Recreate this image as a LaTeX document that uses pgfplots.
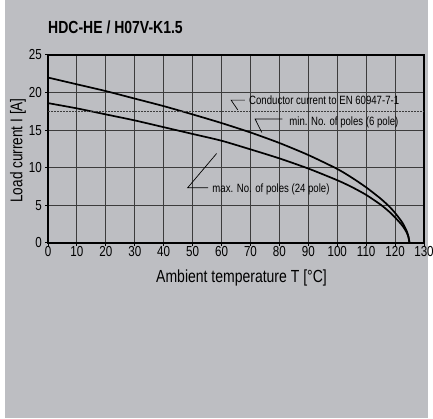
\documentclass[border=0pt]{standalone}
\usepackage{fontspec}
\setmainfont[FakeStretch=0.8]{Liberation Sans}
\usepackage{pgfplots}
\pgfplotsset{compat=1.18}
\definecolor{bg}{RGB}{189,190,194}
\definecolor{gridc}{RGB}{60,60,60}
\begin{document}
\begin{tikzpicture}[x=1pt,y=1pt]
\useasboundingbox (0,0) rectangle (433,419);
\fill[bg] (5,0.5) rectangle (428,418.5);
\node[anchor=base west, inner sep=0pt, font=\fontsize{17.5}{17.5}\selectfont\bfseries] at (48,385.7) {HDC-HE / H07V-K1.5};
\begin{axis}[
    at={(48pt,176pt)}, anchor=south west,
    scale only axis, width=376pt, height=188pt,
    xmin=0, xmax=130, ymin=0, ymax=25,
    xtick={0,10,...,130}, ytick={0,5,...,25},
    grid=major, major grid style={gridc, line width=1.1pt},
    axis line style={black, line width=1.5pt},
    tick align=outside, xtick pos=left, ytick pos=left,
    major tick length=3pt, tick style={black, line width=1pt},
    /pgf/number format/assume math mode=true,
    ticklabel style={font=\fontsize{14.5}{14.5}\selectfont, inner sep=0pt},
    xticklabel style={anchor=base, yshift=-10.5pt},
    yticklabel style={anchor=east, xshift=-3pt},
    clip=false,
]
% min. No. of poles (6 pole)
\addplot[black, line width=1.7pt, smooth, tension=0.4] coordinates {
  (0,22.0) (10,21.1) (20,20.2) (30,19.2) (40,18.2) (50,17.1) (60,15.95)
  (70,14.7) (80,13.3) (90,11.7) (100,9.85) (105,8.7) (110,7.4) (115,5.9)
  (118,4.85) (120,4.0) (122,3.0) (123,2.4) (124,1.6) (124.6,0.9) (125,0)};
% max. No. of poles (24 pole)
\addplot[black, line width=1.7pt, smooth, tension=0.4] coordinates {
  (0,18.6) (10,17.9) (20,17.1) (30,16.3) (40,15.4) (50,14.5) (60,13.6)
  (70,12.45) (80,11.25) (90,9.9) (100,8.35) (105,7.45) (110,6.4) (115,5.1)
  (118,4.15) (120,3.4) (122,2.55) (123,2.05) (124,1.4) (124.6,0.8) (125,0)};
% conductor current
\addplot[gridc, line width=0.6pt, dash pattern=on 1.5pt off 1.5pt] coordinates {(0,17.5) (130,17.5)};
% leaders
\addplot[black, line width=0.7pt] coordinates {(68.1,19.0) (63.3,19.0) (65.6,17.7)};
\addplot[black, line width=0.7pt] coordinates {(81.0,16.5) (71.6,16.5) (73.9,14.7)};
\addplot[black, line width=0.7pt] coordinates {(55.4,7.35) (48.3,7.35) (58.3,11.9)};
\node[anchor=base west, inner sep=0pt, font=\fontsize{12}{12}\selectfont] at (axis cs:69.5,18.35) {Conductor current to EN 60947-7-1};
\node[anchor=base west, inner sep=0pt, font=\fontsize{12}{12}\selectfont] at (axis cs:83.4,15.6) {min. No. of poles (6 pole)};
\node[anchor=base west, inner sep=0pt, font=\fontsize{12}{12}\selectfont] at (axis cs:56.8,6.74) {max. No. of poles (24 pole)};
\end{axis}
\node[anchor=base, inner sep=0pt, font=\fontsize{17.5}{17.5}\selectfont] at (241.5,136.7) {Ambient temperature T [°C]};
\node[rotate=90, anchor=base, inner sep=0pt, font=\fontsize{17}{17}\selectfont] at (22.3,268.5) {Load current I [A]};
\end{tikzpicture}
\end{document}
